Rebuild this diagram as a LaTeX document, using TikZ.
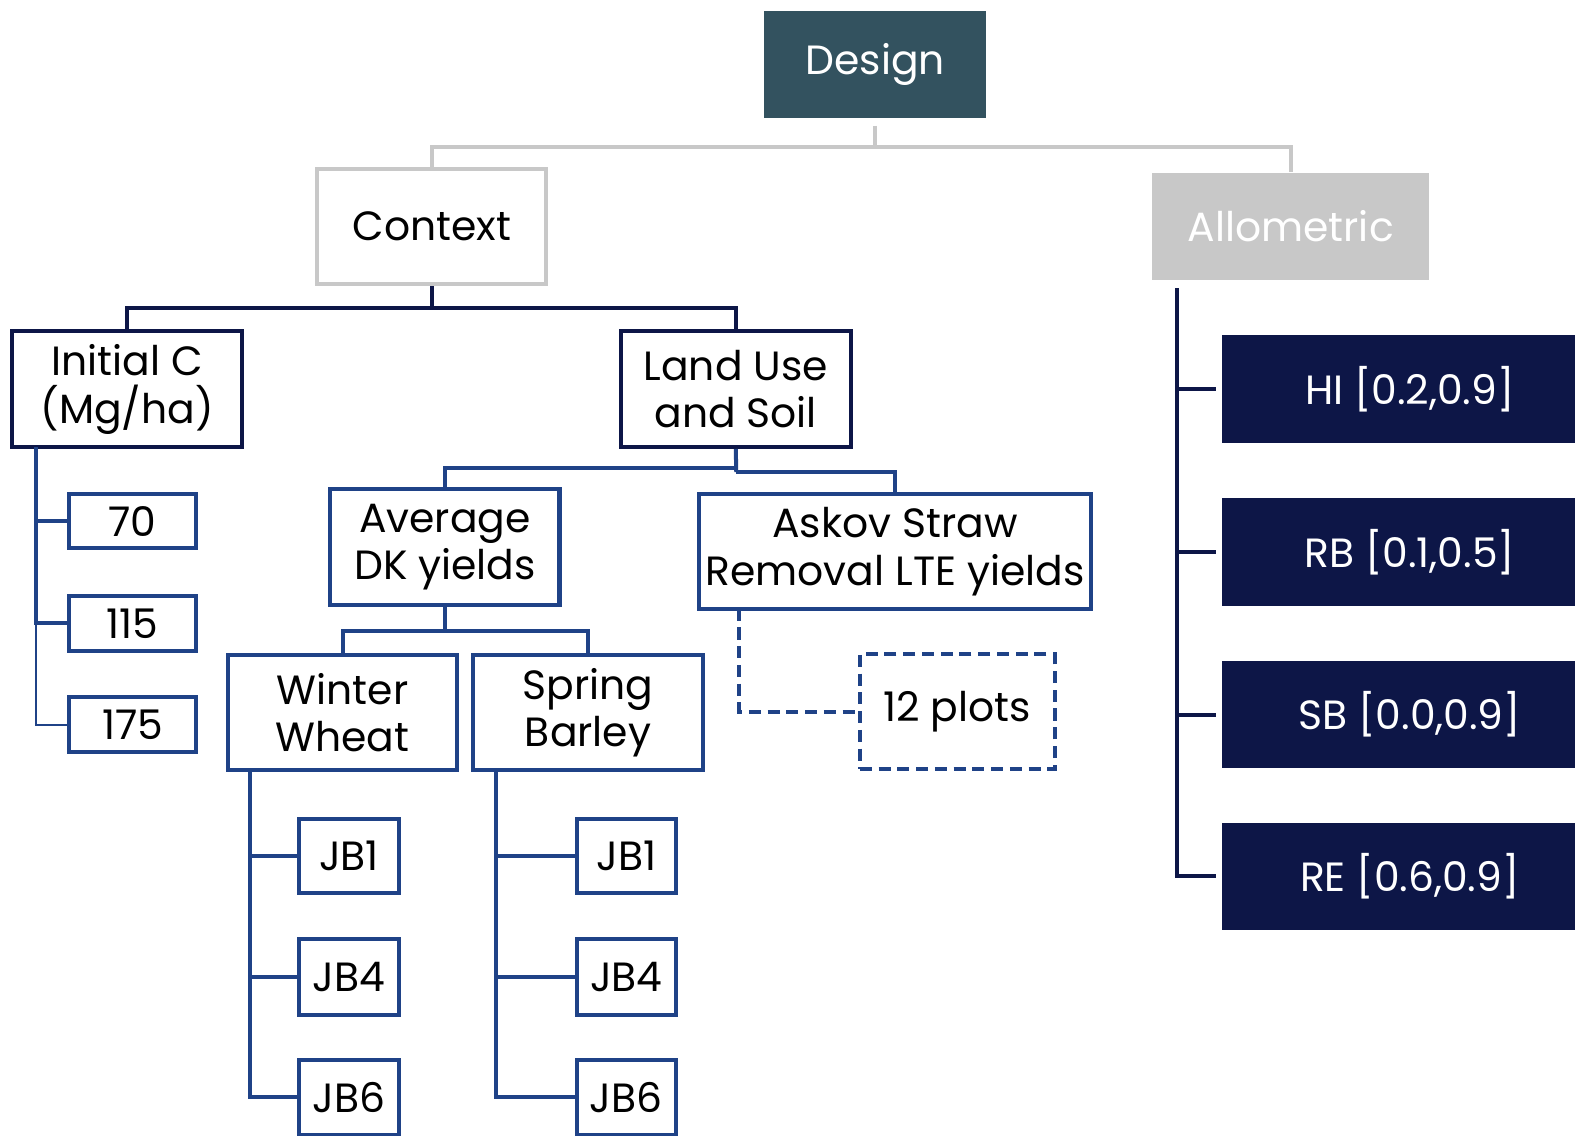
\documentclass[tikz,border=0pt]{standalone}
\usepackage{fontspec}
\setmainfont{Poppins}
\definecolor{navy}{HTML}{0D1647}
\definecolor{midblue}{HTML}{1F4287}
\definecolor{teal}{HTML}{33525F}
\definecolor{lgray}{HTML}{C8C8C8}
\newcommand\bx[7]{\node[#6, minimum width={(#4-#2)*0.75pt}, minimum height={(#5-#3)*0.75pt}] (#1) at ({(#2+#4)/2},{(#3+#5)/2}) {#7};}
\tikzset{
  base/.style={inner sep=0pt, align=center, font=\fontsize{30.5}{35.5}\selectfont, text=black},
  designbox/.style={base, fill=teal, text=white},
  ctxbox/.style={base, draw=lgray, line width=3pt, fill=white},
  allobox/.style={base, fill=lgray, text=white},
  navybox/.style={base, draw=navy, line width=3pt, fill=white},
  bluebox/.style={base, draw=midblue, line width=3pt, fill=white},
  dashbox/.style={base, draw=midblue, line width=3pt, dash pattern=on 9pt off 5pt, fill=white},
  parbox/.style={base, fill=navy, text=white},
  gl/.style={draw=lgray, line width=3pt},
  nl/.style={draw=navy, line width=3pt},
  bl/.style={draw=midblue, line width=3pt},
  blthin/.style={draw=midblue, line width=1.5pt},
  dl/.style={draw=midblue, line width=3pt, dash pattern=on 9pt off 5pt},
}
\begin{document}
\begin{tikzpicture}[x=0.75pt,y=-0.75pt]
\useasboundingbox (0,0) rectangle (1568,1130);
\clip (0,0) rectangle (1568,1130);

\bx{design}{761}{11}{982}{117}{designbox}{Design}
\bx{context}{316}{168}{544}{283}{ctxbox}{Context}
\bx{allo}{1147}{172}{1423}{279}{allobox}{Allometric}
\bx{initc}{12}{330}{241}{445}{navybox}{Initial C\\(Mg/ha)}
\bx{landuse}{618}{330}{847}{445}{navybox}{Land Use\\and Soil}
\bx{n70}{69}{492}{195}{546}{bluebox}{70}
\bx{n115}{69}{593}{195}{648}{bluebox}{115}
\bx{n175}{69}{694}{195}{749}{bluebox}{175}
\bx{avg}{329}{487}{557}{602}{bluebox}{Average\\DK yields}
\bx{askov}{696}{492}{1086}{606}{bluebox}{Askov Straw\\Removal LTE yields}
\bx{ww}{227}{652}{455}{767}{bluebox}{Winter\\Wheat}
\bx{sb}{471}{652}{700}{767}{bluebox}{Spring\\Barley}
\bx{plots}{856}{651}{1050}{766}{dashbox}{12 plots}
\bx{wa}{298}{815}{397}{889}{bluebox}{JB1}
\bx{wb}{298}{935}{397}{1010}{bluebox}{JB4}
\bx{wc}{298}{1055}{397}{1130}{bluebox}{JB6}
\bx{sa}{574}{815}{673}{889}{bluebox}{JB1}
\bx{sbb}{574}{935}{673}{1010}{bluebox}{JB4}
\bx{sc}{574}{1055}{673}{1130}{bluebox}{JB6}
\bx{hi}{1217}{334}{1590}{441}{parbox}{HI [0.2,0.9]}
\bx{rb}{1217}{496}{1590}{603}{parbox}{RB [0.1,0.5]}
\bx{sbp}{1217}{658}{1590}{765}{parbox}{SB [0.0,0.9]}
\bx{re}{1217}{819}{1590}{926}{parbox}{RE [0.6,0.9]}

% Design -> Context, Allometric
\coordinate (g0) at (871,125);
\coordinate (g1) at (871,146);
\draw[gl] (g0) -- (g1);
\draw[gl] (g1) -| (context.north);
\draw[gl] (g1) -| (allo.north);

% Context -> Initial C, Land Use
\coordinate (c1) at (430,307);
\draw[nl] (context.south) -- (c1);
\draw[nl] (c1) -| (initc.north);
\draw[nl] (c1) -| (landuse.north);

% Initial C -> values
\coordinate (ic) at (36,445);
\draw[blthin] (ic) |- (n175.west);
\draw[bl] (ic) |- (n115.west);
\draw[bl] (ic) |- (n70.west);

% Land Use -> Average, Askov
\coordinate (l1) at (733,466);
\coordinate (l2) at (733,470);
\draw[bl] (landuse.south) -- (l2);
\draw[bl] (l1) -| (avg.north);
\draw[bl] (l2) -| (askov.north);

% Average -> WW, SB
\coordinate (a1) at (443,628);
\draw[bl] (avg.south) -- (a1);
\draw[bl] (a1) -| (ww.north);
\draw[bl] (a1) -| (sb.north);

% Askov -> 12 plots (dashed)
\coordinate (k1) at (736,606);
\draw[dl] (k1) |- (plots.west);

% Winter Wheat -> JB
\coordinate (w0) at (249,767);
\draw[bl] (w0) |- (wc.west);
\draw[bl] (w0) |- (wb.west);
\draw[bl] (w0) |- (wa.west);
% Spring Barley -> JB
\coordinate (s0) at (494,767);
\draw[bl] (s0) |- (sc.west);
\draw[bl] (s0) |- (sbb.west);
\draw[bl] (s0) |- (sa.west);

% Allometric -> parameters
\coordinate (al) at (1172,287);
\draw[nl] (al) |- ([xshift=-4.5pt]re.west);
\draw[nl] (al) |- ([xshift=-4.5pt]sbp.west);
\draw[nl] (al) |- ([xshift=-4.5pt]rb.west);
\draw[nl] (al) |- ([xshift=-4.5pt]hi.west);
\end{tikzpicture}
\end{document}
